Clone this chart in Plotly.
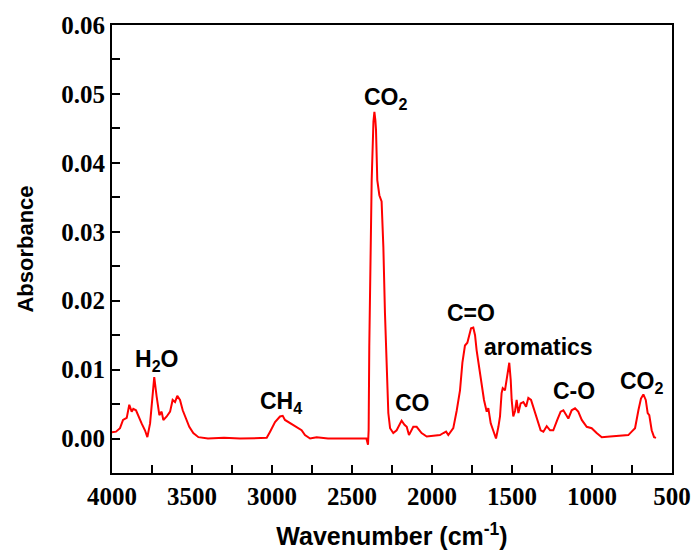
import plotly.graph_objects as go

wavenumber = [4000, 3975, 3950, 3931, 3908, 3892, 3877, 3867, 3850, 3835, 3815, 3794, 3779, 3762, 3748,
              3736, 3721, 3704, 3690, 3679, 3658, 3637, 3621, 3606, 3592, 3575, 3558, 3537, 3517, 3492,
              3460, 3400, 3300, 3200, 3100, 3033, 3012, 2981, 2950, 2933, 2919, 2887, 2846, 2815, 2794,
              2762, 2721, 2650, 2550, 2450, 2410, 2400, 2396, 2392, 2377, 2366, 2360, 2354, 2350, 2342,
              2329, 2315, 2304, 2294, 2283, 2273, 2262, 2242, 2221, 2190, 2172, 2158, 2144, 2117, 2096,
              2065, 2033, 1992, 1950, 1929, 1912, 1898, 1867, 1846, 1825, 1810, 1800, 1794, 1779, 1769,
              1756, 1742, 1731, 1721, 1704, 1690, 1675, 1658, 1648, 1633, 1613, 1600, 1585, 1575, 1565,
              1558, 1544, 1533, 1524, 1517, 1508, 1502, 1492, 1481, 1471, 1460, 1446, 1429, 1412, 1398,
              1381, 1367, 1350, 1335, 1321, 1304, 1283, 1262, 1242, 1217, 1196, 1179, 1162, 1148, 1127,
              1106, 1086, 1064, 1033, 1002, 971, 939, 887, 825, 773, 752, 731, 710, 694, 679,
              664, 652, 642, 627, 612, 600]
absorbance = [0.0009, 0.0010, 0.0015, 0.0027, 0.0030, 0.0049, 0.0039, 0.0043, 0.0041, 0.0032, 0.0022, 0.0012, 0.0002, 0.0022, 0.0061,
              0.0089, 0.0061, 0.0034, 0.0039, 0.0027, 0.0032, 0.0039, 0.0056, 0.0053, 0.0062, 0.0056, 0.0041, 0.0029, 0.0017, 0.0008,
              0.0002, 0.0000, 0.0001, 0.0000, 0.0001, 0.0001, 0.0010, 0.0024, 0.0032, 0.0033, 0.0027, 0.0022, 0.0016, 0.0012, 0.0005,
              0.0000, 0.0002, 0.0000, 0.0000, 0.0000, 0.0000, -0.0009, 0.0012, 0.0133, 0.0375, 0.0460, 0.0474, 0.0462, 0.0448, 0.0375,
              0.0353, 0.0344, 0.0278, 0.0182, 0.0085, 0.0037, 0.0015, 0.0008, 0.0012, 0.0026, 0.0020, 0.0017, 0.0005, 0.0017, 0.0017,
              0.0008, 0.0003, 0.0004, 0.0005, 0.0008, 0.0010, 0.0005, 0.0015, 0.0040, 0.0070, 0.0110, 0.0130, 0.0135, 0.0139, 0.0150,
              0.0160, 0.0161, 0.0150, 0.0128, 0.0099, 0.0075, 0.0056, 0.0039, 0.0044, 0.0022, 0.0008, 0.0000, 0.0017, 0.0032, 0.0066,
              0.0073, 0.0070, 0.0085, 0.0095, 0.0110, 0.0085, 0.0056, 0.0032, 0.0040, 0.0056, 0.0037, 0.0051, 0.0053, 0.0046, 0.0059,
              0.0056, 0.0046, 0.0034, 0.0022, 0.0012, 0.0010, 0.0018, 0.0012, 0.0012, 0.0027, 0.0039, 0.0041, 0.0034, 0.0029, 0.0041,
              0.0044, 0.0039, 0.0027, 0.0017, 0.0015, 0.0008, 0.0002, 0.0003, 0.0004, 0.0005, 0.0010, 0.0015, 0.0041, 0.0058, 0.0064,
              0.0056, 0.0037, 0.0034, 0.0012, 0.0002, 0.0001]

label_text = ["H<sub>2</sub>O", "CH<sub>4</sub>", "CO<sub>2</sub>", "CO", "C=O", "aromatics", "C-O", "CO<sub>2</sub>"]
label_x = [3725, 2944, 2288, 2125, 1756, 1337, 1112, 688]
label_y = [0.0113, 0.0053, 0.0494, 0.0052, 0.0182, 0.0133, 0.0069, 0.0082]

x_tickvals = [4000, 3500, 3000, 2500, 2000, 1500, 1000, 500]
y_tickvals = [0.00, 0.01, 0.02, 0.03, 0.04, 0.05, 0.06]
y_ticktext = ["0.00", "0.01", "0.02", "0.03", "0.04", "0.05", "0.06"]

sans = "Liberation Sans, Arial, sans-serif"
serif = "Liberation Serif, Times New Roman, serif"

fig = go.Figure()
fig.add_trace(go.Scatter(x=wavenumber, y=absorbance, mode="lines",
                         line=dict(color="#ff0000", width=2), showlegend=False))

for t, x, y in zip(label_text, label_x, label_y):
    fig.add_annotation(x=x, y=y, xref="x", yref="y", text=t, showarrow=False,
                       font=dict(family=sans, size=23, color="black", weight="bold"))

axis_common = dict(showline=True, linecolor="black", linewidth=2, mirror=True,
                   ticks="inside", ticklen=8, tickwidth=1.5, tickcolor="black",
                   showgrid=False, zeroline=False, automargin=False,
                   tickfont=dict(family=serif, size=25, color="black", weight="bold"))

fig.update_xaxes(range=[4000, 500], tickvals=x_tickvals,
                 minor=dict(ticks="inside", ticklen=8, tickwidth=1.5, tickcolor="black", dtick=250, showgrid=False),
                 title=dict(text="Wavenumber (cm<sup>-1</sup>)", standoff=24,
                            font=dict(family=sans, size=25, color="black", weight="bold")),
                 **axis_common)
fig.update_yaxes(range=[-0.005, 0.06], tickvals=y_tickvals, ticktext=y_ticktext,
                 minor=dict(ticks="inside", ticklen=8, tickwidth=1.5, tickcolor="black", dtick=0.005, tick0=0, showgrid=False),
                 title=dict(text="Absorbance", standoff=22,
                            font=dict(family=sans, size=22, color="black", weight="bold")),
                 **axis_common)

fig.update_layout(width=692, height=550, margin=dict(l=112, r=20, t=25, b=77),
                  plot_bgcolor="white", paper_bgcolor="white")

fig.write_html("out.html")
